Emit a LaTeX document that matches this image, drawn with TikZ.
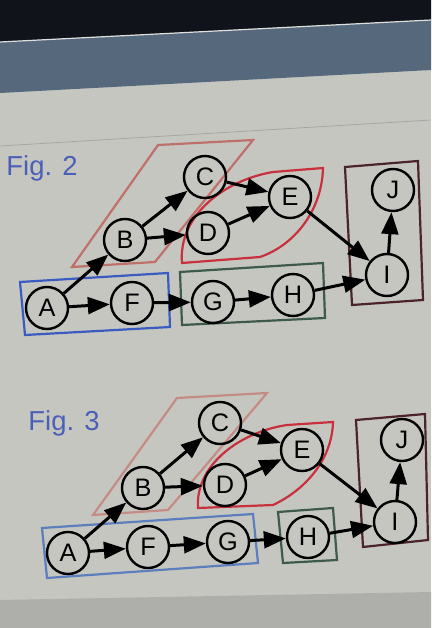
\documentclass[tikz,border=0pt]{standalone}
\usepackage{fontspec}
\setmainfont{Liberation Sans}
\usetikzlibrary{arrows.meta}
\definecolor{nero}{HTML}{10141A}
\definecolor{ardesia}{HTML}{56697C}
\definecolor{sfondo}{HTML}{C6C6C1}
\definecolor{blufig}{HTML}{4A5FB8}
\definecolor{blu}{HTML}{3A5CC0}
\definecolor{bluchiaro}{HTML}{5C7EBC}
\definecolor{verde}{HTML}{3E5A4A}
\definecolor{bordeaux}{HTML}{4A2428}
\definecolor{rosa}{HTML}{C0706A}
\definecolor{rosachiaro}{HTML}{C48C84}
\definecolor{rosso}{HTML}{C8303C}

\begin{document}
\begin{tikzpicture}[x=0.25mm,y=-0.25mm,
    nodo/.style={circle,draw,line width=0.6mm,minimum size=10.5mm,inner sep=0pt,font=\fontsize{18}{18}\selectfont},
    freccia/.style={line width=0.75mm,-{Triangle[length=5.5mm,width=4.2mm]}},
    gruppo/.style={line width=0.55mm},
    titolo/.style={text=blufig,font=\fontsize{19.5}{20}\selectfont}]
        \useasboundingbox (0,0) rectangle (431,628);
        % Sfondo dello schermo
        \fill[sfondo] (0,0) rectangle (431,628);
        \fill[nero] (0,0) -- (431,0) -- (431,20) -- (0,42) -- cycle;
        \fill[ardesia] (0,42) -- (431,20) -- (431,70) -- (0,93) -- cycle;
        \draw[white!75!gray, line width=0.3mm] (0,42) -- (431,20);
        \draw[gray!70, line width=0.2mm] (0,146) -- (431,120);
        \fill[sfondo!88!black] (0,600) -- (431,592) -- (431,628) -- (0,628) -- cycle;
        % Fig. 2
        \node[titolo] (fig2) at (42,168) {Fig. 2};
        \draw[gruppo, rosa] (72,267) -- (155,262) -- (253,140) -- (158,145) -- cycle;
        \draw[gruppo, rosso] (182,263) -- (260,257) .. controls (295,245) and (322,210) .. (323,168)
            -- (273,172) .. controls (225,180) and (178,215) .. (182,263) -- cycle;
        \draw[gruppo, blu] (20,282) -- (168,273) -- (170,327) -- (25,335) -- cycle;
        \draw[gruppo, verde] (180,272) -- (323,263) -- (325,318) -- (182,325) -- cycle;
        \draw[gruppo, bordeaux] (345,167) -- (418,161) -- (423,300) -- (352,305) -- cycle;
        \foreach \n/\x/\y in {A/47/308, B/125/240, C/205/177, D/208/233, E/290/197,
                              F/132/303, G/213/302, H/293/295, I/387/275, J/393/190}
            \node[nodo] (\n2) at (\x,\y) {\n};
        \foreach \s/\t in {A/B, A/F, B/C, B/D, C/E, D/E, E/I, F/G, G/H, H/I, I/J}
            \draw[freccia] (\s2) -- (\t2);
        % Fig. 3
        \node[titolo] (fig3) at (64,423) {Fig. 3};
        \draw[gruppo, rosachiaro] (93,515) -- (168,510) -- (267,393) -- (177,398) -- cycle;
        \draw[gruppo, rosso] (198,508) -- (273,505) .. controls (305,490) and (332,460) .. (333,422)
            -- (287,425) .. controls (240,432) and (195,465) .. (198,508) -- cycle;
        \draw[gruppo, bluchiaro] (42,528) -- (253,514) -- (258,563) -- (47,578) -- cycle;
        \draw[gruppo, verde] (278,512) -- (333,508) -- (337,560) -- (283,563) -- cycle;
        \draw[gruppo, bordeaux] (356,420) -- (425,414) -- (428,540) -- (363,547) -- cycle;
        \foreach \n/\x/\y in {A/68/553, B/143/488, C/220/423, D/225/485, E/302/450,
                              F/148/547, G/228/542, H/308/537, I/395/522, J/402/440}
            \node[nodo] (\n3) at (\x,\y) {\n};
        \foreach \s/\t in {A/B, A/F, B/C, B/D, C/E, D/E, E/I, F/G, G/H, H/I, I/J}
            \draw[freccia] (\s3) -- (\t3);
    \end{tikzpicture}
\end{document}
